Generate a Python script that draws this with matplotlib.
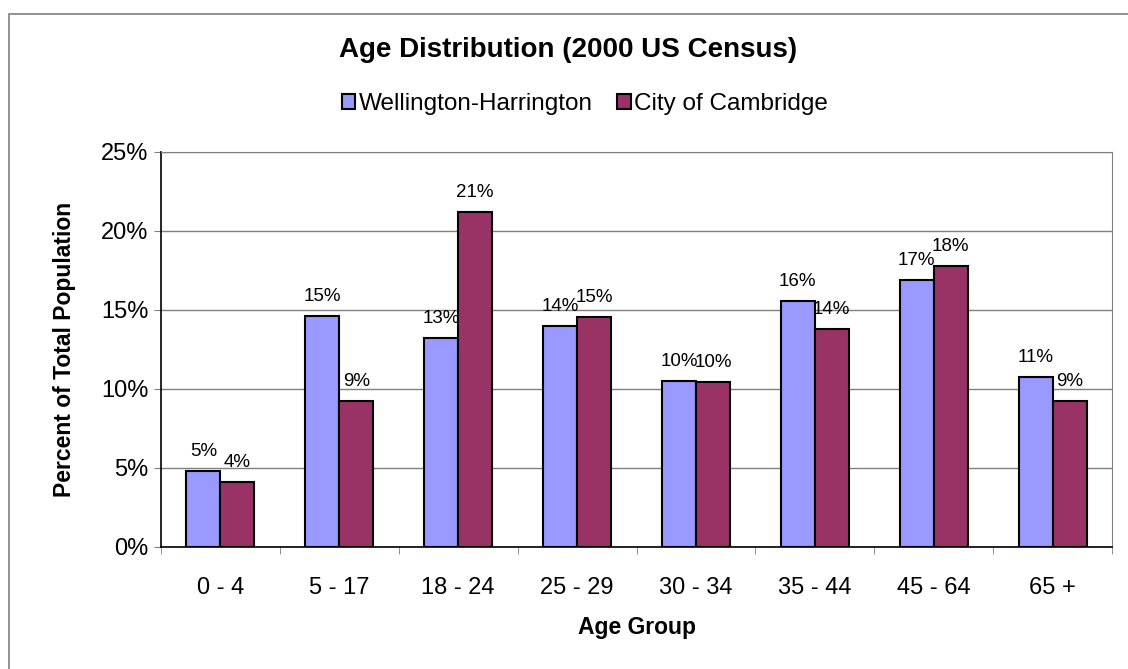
import numpy as np
import matplotlib.pyplot as plt
from matplotlib.patches import Rectangle
from matplotlib.ticker import FuncFormatter

plt.rcParams['font.family'] = ['Liberation Sans', 'DejaVu Sans']

age_groups = ["0 - 4", "5 - 17", "18 - 24", "25 - 29", "30 - 34", "35 - 44", "45 - 64", "65 +"]
wellington = [4.76, 14.6, 13.2, 13.96, 10.47, 15.55, 16.88, 10.72]
cambridge = [4.06, 9.2, 21.2, 14.53, 10.4, 13.77, 17.77, 9.2]
series_names = ["Wellington-Harrington", "City of Cambridge"]
colors = ["#9999FF", "#993366"]

W, H = 1128, 669
fig = plt.figure(figsize=(W / 100, H / 100), dpi=100)
ax = fig.add_axes([161 / W, 1 - 546.5 / H, (1112 - 161) / W, (546.5 - 152) / H])

# chart frame
fig.patches.append(Rectangle((9 / W, -0.05), 1.1, 1 - 14 / H + 0.05, transform=fig.transFigure,
                             fill=False, edgecolor="#808080", linewidth=1.2))

x = np.arange(len(age_groups))
bw = 0.286
for i, (vals, name, c) in enumerate(zip([wellington, cambridge], series_names, colors)):
    pos = x + (i - 0.5) * bw
    ax.bar(pos, vals, bw, color=c, edgecolor="black", linewidth=1.5, label=name, zorder=3)
    for px, v in zip(pos, vals):
        ax.annotate(f"{round(v):.0f}%", (px, v), xytext=(0, 8), textcoords="offset points",
                    ha="center", va="bottom", fontsize=13.5)

ax.set_xlim(-0.5, len(age_groups) - 0.5)
ax.set_ylim(0, 25)
ax.set_yticks(np.arange(0, 26, 5))
ax.yaxis.set_major_formatter(FuncFormatter(lambda v, p: f"{v:.0f}%"))
ax.yaxis.grid(True, color="#808080", linewidth=1)
ax.set_axisbelow(True)
ax.set_xticks(x)
ax.set_xticklabels(age_groups)
ax.set_xticks(np.arange(-0.5, len(age_groups)), minor=True)
ax.tick_params(axis="x", which="major", length=0, pad=22, labelsize=17)
ax.tick_params(axis="x", which="minor", length=5, color="#808080")
ax.tick_params(axis="y", length=5, color="#808080", labelsize=17, pad=4)

for side in ["top", "right"]:
    ax.spines[side].set_color("#808080")
ax.spines["left"].set_color("black")
ax.spines["bottom"].set_color("black")
ax.spines["left"].set_linewidth(1.2)
ax.spines["bottom"].set_linewidth(1.2)

ax.set_xlabel("Age Group", fontsize=16.5, fontweight="bold", labelpad=12)
ax.set_ylabel("Percent of Total Population", fontsize=16.5, fontweight="bold", labelpad=18)

fig.text(568 / W, 1 - 50 / H, "Age Distribution (2000 US Census)", ha="center", va="center",
         fontsize=20, fontweight="bold")
fig.legend(loc="center", bbox_to_anchor=(585 / W, 1 - 104 / H), ncol=2, frameon=False,
           fontsize=17.5, handlelength=0.55, handleheight=0.55, handletextpad=0.15, columnspacing=1.0)

fig.savefig("out.png", dpi=100)
